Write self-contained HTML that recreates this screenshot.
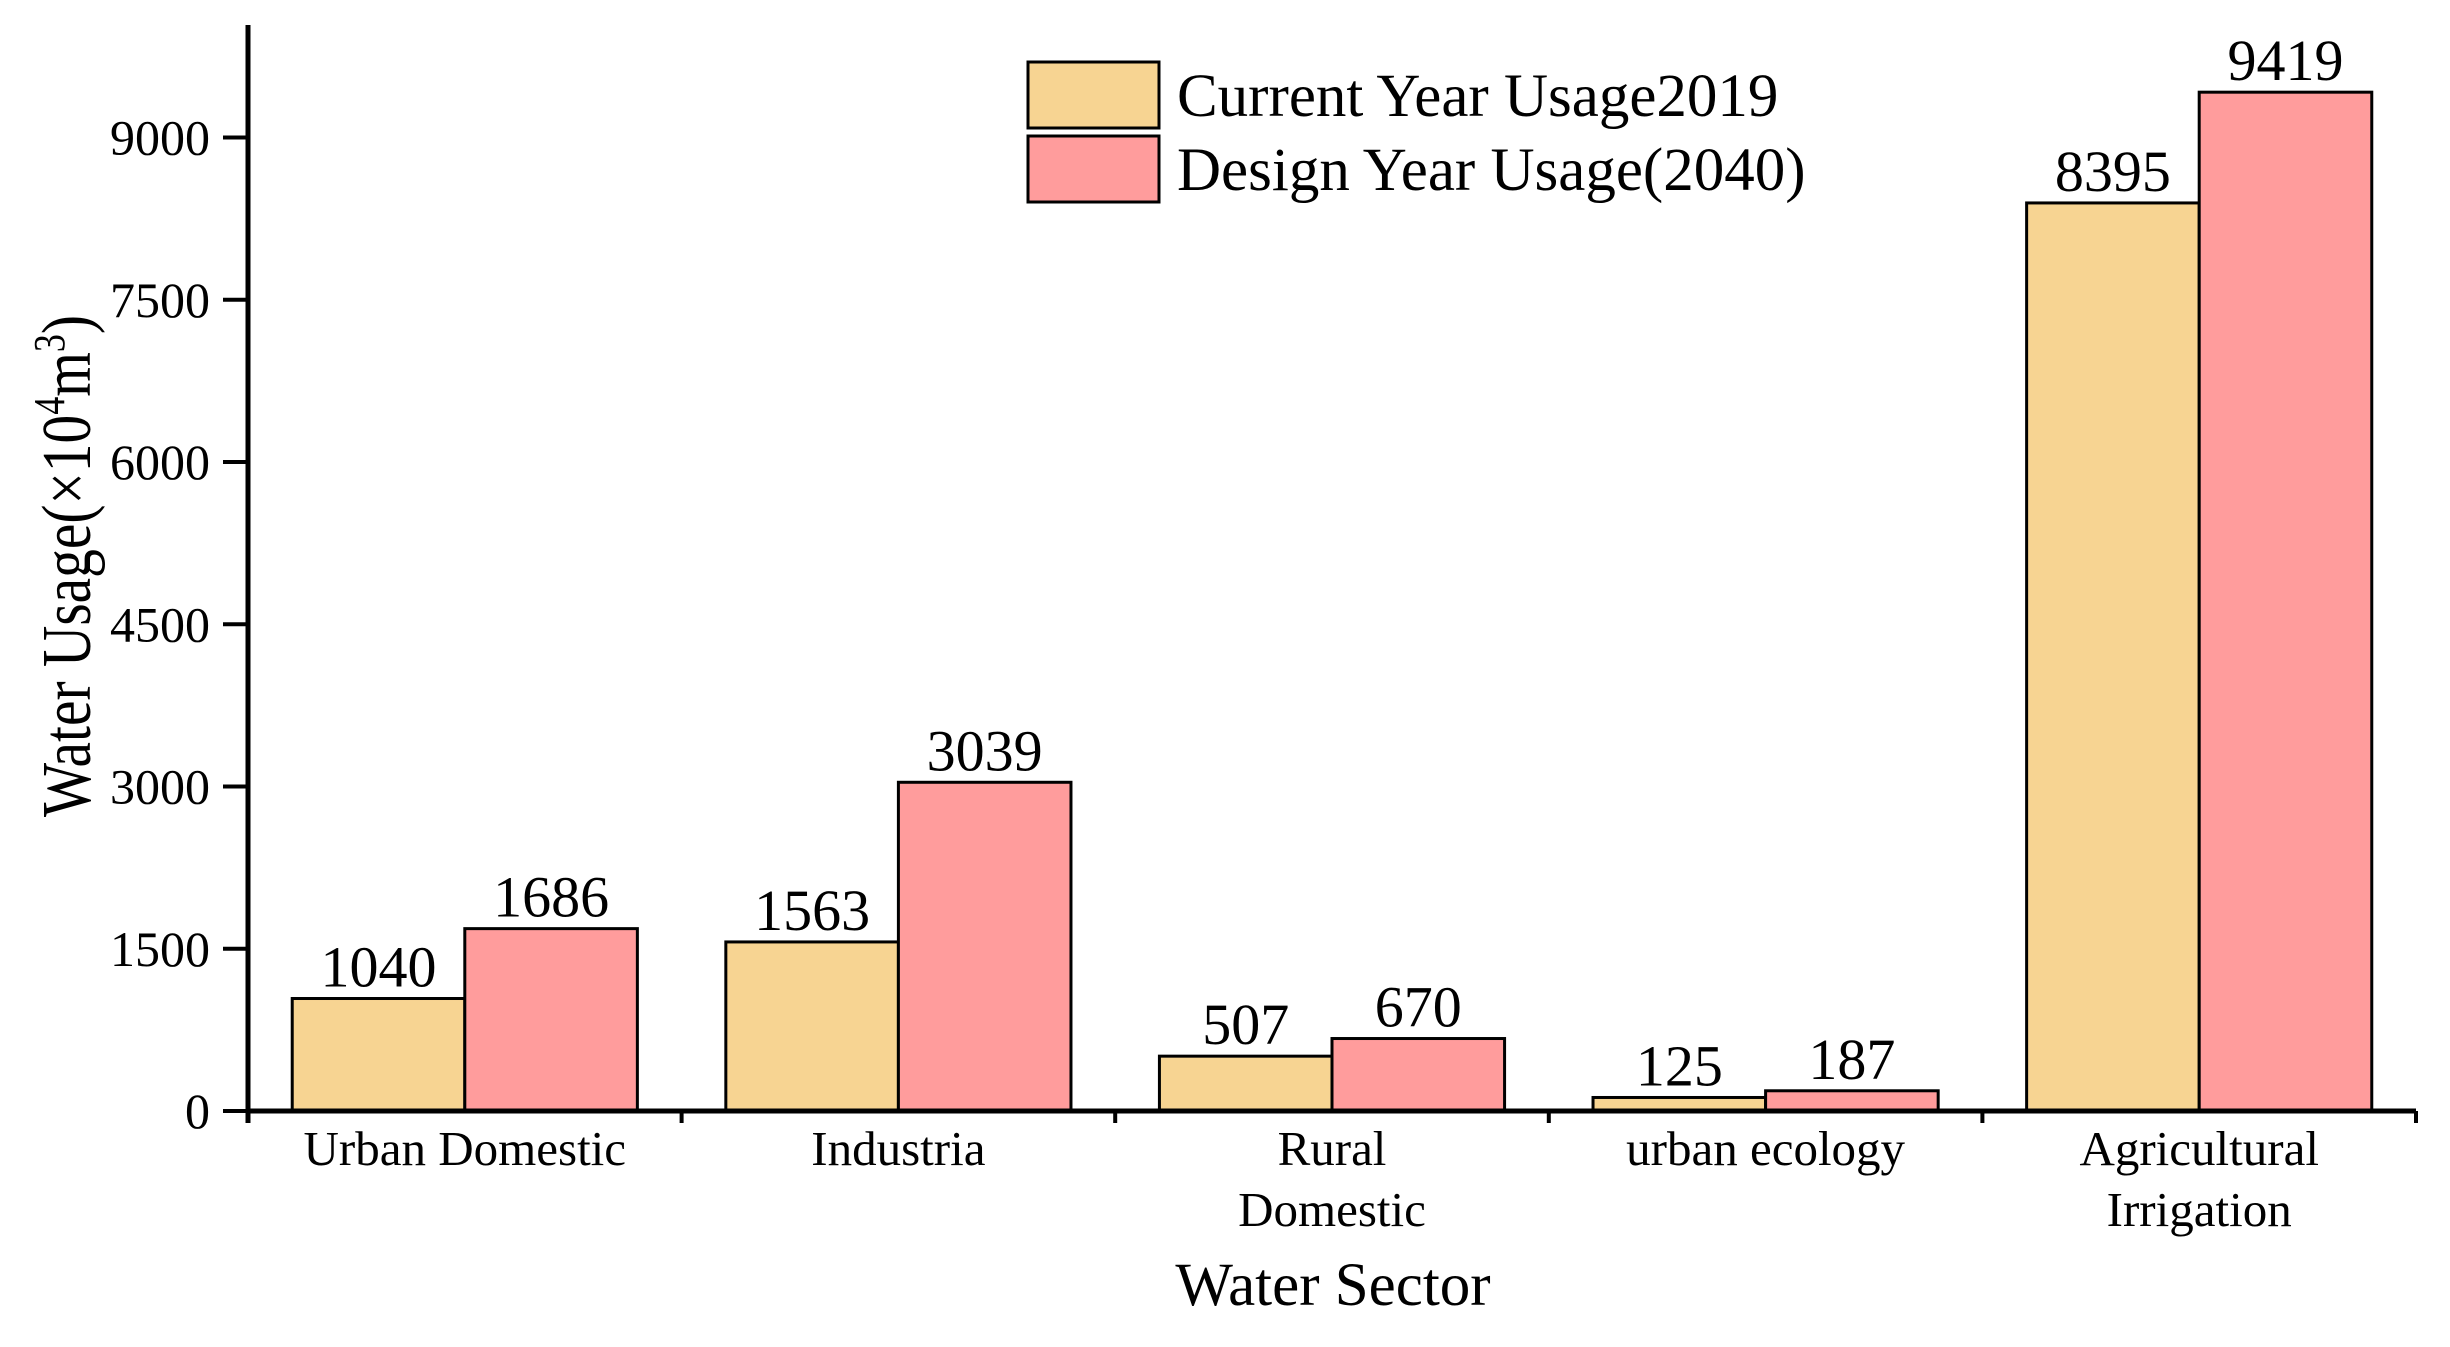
<!DOCTYPE html>
<html><head><meta charset="utf-8"><style>
body{margin:0;background:#fff}
svg text{font-family:"Liberation Serif",serif;fill:#000}
</style></head><body>
<svg width="2450" height="1342" xmlns="http://www.w3.org/2000/svg" id="chart">
</svg>
<script>
const categories=[["Urban Domestic"],["Industria"],["Rural","Domestic"],["urban ecology"],["Agricultural","Irrigation"]];
const current2019=[1040,1563,507,125,8395];
const design2040=[1686,3039,670,187,9419];
const yTicks=[0,1500,3000,4500,6000,7500,9000];
const seriesNames=["Current Year Usage2019","Design Year Usage(2040)"];
const colors=["#F7D492","#FF9C9C"];
const svg=document.getElementById('chart');
const NS="http://www.w3.org/2000/svg";
const X0=248,YTOP=25,Y0=1111;
const slot=433.6;
const X1=X0+slot*categories.length;
const bw=slot*0.398;
function y(v){return Y0-(v/9000)*(Y0-137.5);}
function mk(t,a,txt){const e=document.createElementNS(NS,t);for(const k in a)e.setAttribute(k,a[k]);if(txt!==undefined)e.textContent=txt;svg.appendChild(e);return e;}
[current2019,design2040].forEach((s,si)=>{s.forEach((v,i)=>{
 const cx=X0+slot*(i+0.5);const x=si===0?cx-bw:cx;
 const r=mk('rect',{x:x,y:y(v),width:bw,height:Y0-y(v),fill:colors[si],stroke:'#000','stroke-width':3});
 
 
 const t=mk('text',{x:x+bw/2,y:y(v)-12,'text-anchor':'middle','font-size':58},String(v));
 
 
});});
const ax=mk('line',{x1:X0,y1:YTOP,x2:X0,y2:Y0+12,stroke:'#000','stroke-width':5});


const bx=mk('line',{x1:X0-2,y1:Y0,x2:X1,y2:Y0,stroke:'#000','stroke-width':5});


yTicks.forEach(v=>{
 mk('line',{x1:X0-25,y1:y(v),x2:X0,y2:y(v),stroke:'#000','stroke-width':4});
 const t=mk('text',{x:210,y:y(v)+17,'text-anchor':'end','font-size':50},String(v));
 
 
});
for(let i=0;i<=categories.length;i++){mk('line',{x1:X0+slot*i,y1:Y0,x2:X0+slot*i,y2:Y0+12,stroke:'#000','stroke-width':4});}
categories.forEach((c,i)=>{c.forEach((ln,j)=>{
 const t=mk('text',{x:X0+slot*(i+0.5),y:1165+j*61,'text-anchor':'middle','font-size':49},ln);
 
 
});});
const xt=mk('text',{x:1333,y:1305,'text-anchor':'middle','font-size':61},'Water Sector');


const yt=mk('text',{x:0,y:0,'text-anchor':'middle','font-size':70,transform:'translate(90,566) rotate(-90) scale(0.82,1)'});


yt.innerHTML='Water Usage(×10<tspan dy="-26" font-size="44">4</tspan><tspan dy="26">m</tspan><tspan dy="-26" font-size="44">3</tspan><tspan dy="26">)</tspan>';
seriesNames.forEach((n,i)=>{
 const r=mk('rect',{x:1028,y:62+i*74,width:131,height:66,fill:colors[i],stroke:'#000','stroke-width':3});
 
 
 const t=mk('text',{x:1177,y:116+i*74,'font-size':61},n);
 
 
});
</script>
</body></html>
